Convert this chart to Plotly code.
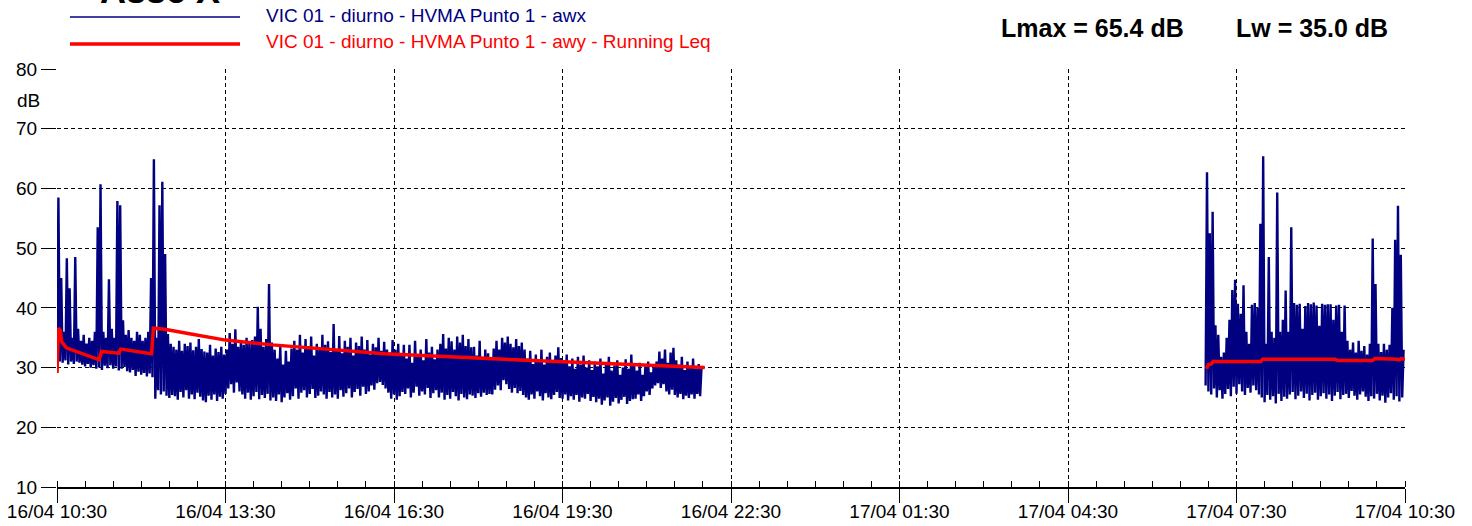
import pandas as pd
import plotly.graph_objects as go

# ---------------------------------------------------------------------------
# Vibration level record, axis X - VIC 01, daytime, HVMA point 1
# Levels in dB, stored as min / max per 3-minute block
# ---------------------------------------------------------------------------
DAY_START = pd.Timestamp("2021-04-16 10:30")
BLOCK_MIN = 3

# first run: starts at 16/04 10:30 (minutes after start)
run1_start = 0
run1_lo = [
    29.5, 31, 30.8, 31.2, 30.5, 31, 30.6, 31, 30.8, 30.5,
    30.2, 30.6, 30, 30.4, 29.8, 30, 29.6, 30.3, 29.9, 30.4,
    29.8, 30.2, 29.5, 29.8, 30.1, 29.4, 29.2, 29.6, 28.6, 29.3,
    28.8, 29.1, 28.5, 29, 28.4,
    24.8, 26.2, 25.5, 26, 25.3, 24.9, 25.4,
    25.2, 24.6, 25.9, 25, 26.2, 24.8, 25.5, 24.7, 25.8, 25.1, 24.5,
    24.2, 25.3, 24.6, 25.5, 24.4, 25.1, 24.8, 25.6,
    26.5, 27.2, 25.8, 27.5, 26,
    25.5, 24.8, 25.8, 24.6, 25.2, 25.9, 24.7, 25.4, 24.9, 25.6, 24.5, 25,
    24.4, 25.5, 24.2, 25, 25.7, 24.6,
    25.2, 26.5, 24.8, 25.8, 26.2, 25, 25.6, 26.4, 24.9, 25.3, 26, 25.5, 24.8, 25.9,
    25,
    25.5, 24.8, 26.2, 25.1, 25.7, 26.5, 25, 25.9, 26.4, 25.3,
    26.8, 25.6, 26, 27, 26.3, 27.4, 27.6, 27.1, 26.5,
    25.8, 24.8, 25.5, 24.6, 25.2, 25.9,
    25.6, 26.5, 25, 25.8, 26.8, 25.3, 26, 25.5, 26.6, 24.9, 25.7, 26.2,
    25, 25.8, 24.6, 25.4, 24.8, 25.9, 25.2, 24.5, 25.6, 25, 24.7, 25.5,
    25.3, 24.9, 25.7, 25.1, 25.8, 25.4, 25.6,
    25.5, 26.3, 27, 26.2, 27.9, 27.2, 26.4, 25.8, 26.6, 25.7, 26.1, 25.4,
    25, 24.6, 25.5, 24.8, 26, 25.2, 24.5, 25.7, 25, 24.7, 25.4, 25.9, 24.9,
    24.8, 25.5, 24.5, 25.2, 24.6, 25.4, 24.3, 25, 24.8, 25.6, 24.4, 25.1,
    24.2, 24.8, 23.8, 24.5, 25, 23.6, 24.3, 24.9, 24, 24.6, 25.1, 23.9, 24.4, 24.7,
    24.8, 25.5, 24.4, 25.2, 26, 25.4, 26.5, 27,
    27.4, 26.6, 27.2, 26, 25.5, 26.3, 25.4,
    25, 25.6, 24.7, 25.3, 24.9, 25.5, 24.8, 25.6, 25.2,
]
run1_hi = [
    58.5, 45, 36, 48.3, 43.3, 35, 48.5, 36.5, 34.5, 35.5,
    34, 35, 34.5, 36, 53.5, 60.7, 36, 35, 44.8, 36.5,
    35, 57.9, 57.2, 37.9, 35.5, 36.3, 35, 34.5, 36, 35.5,
    34.5, 35, 36, 45, 64.9,
    35, 57.2, 61.1, 49, 35.6, 34, 33.5,
    33, 34.5, 32.8, 34, 33.6, 34.2, 32.9, 33.5, 34.8, 33.1, 32.7,
    32.5, 33.8, 32, 33.2, 32.6, 33.5, 32.2, 33,
    35.8, 34, 36.4, 33.5, 34.6,
    33.8, 35, 34, 34.6, 35.2, 40.2, 36.5, 33.5, 34.8, 44.0, 34.2, 33,
    31.5, 33.5, 30.5, 32.8, 31, 33.2,
    34.5, 33, 35.5, 32.5, 34.8, 33.6, 35.2, 32, 34, 33.2, 35.5, 33.8, 34.4, 32.6,
    37.3,
    33, 35.3, 32.4, 34.5, 33.5, 35, 32, 34.2, 33.6, 35.2,
    33, 34.6, 32.2, 34, 33.4, 35, 32.8, 34.3, 33,
    32.5, 34.6, 33, 34, 32.2, 33.8,
    31.5, 33.8, 30.8, 34.5, 32.2, 33, 31.2, 34.8, 32.5, 33.5, 31.4, 33,
    34, 35.6, 33.2, 35, 34.4, 33, 35.2, 34.2, 35.5, 33.6, 34.8, 33.4,
    33.5, 32, 34.5, 31.8, 33, 32.4, 31.5,
    33.2, 34.5, 33, 35, 34.2, 35.2, 34, 33.4, 34.8, 33.6, 34.2, 33,
    31.5, 32.8, 30.6, 32.2, 31, 33, 30.5, 31.8, 32.5, 30.8, 32, 33.4, 31.6,
    31, 32.2, 30.2, 31.5, 29.8, 31.8, 30.5, 32, 30, 31.2, 29.6, 31,
    30.2, 31.5, 29, 30.8, 31.8, 29.5, 30.4, 31.2, 28.8, 30, 31.4, 29.8, 32.2, 30.5,
    29.5, 30.8, 28.8, 30.2, 31, 29.2, 30.5, 31,
    32.7, 31.5, 33, 30.8, 32.5, 33.3, 31.2,
    30.5, 31.8, 29.6, 31, 30.2, 31.5, 29.8, 30.6, 30,
]

# second run: starts on 17/04 around 07:57
run2_start = 1227
run2_lo = [
    27, 26, 25.5, 26.5, 25, 26.2, 24.8, 25.6, 26.4, 25.2,
    26.8, 25.6, 27.2, 26, 25.4, 26.6, 25.8, 27, 26.2, 25.5,
    25, 24.2, 25.4, 24.6, 25.2, 24, 25.6, 24.4, 25.1, 24.8,
    25.5, 25.9, 24.7, 25.3, 26, 24.9, 25.6, 24.5, 25.4, 25.8,
    24.6, 25.2, 25.7, 24.8, 25.5, 24.4, 25.3, 25.9, 24.7, 25.4,
    25.6, 24.9, 26.1, 25.3, 24.6, 25.5, 26, 25.1, 24.4, 25.2,
    24.8, 25.6, 24.5, 25.3, 24.1, 25, 25.7, 24.6, 25.2, 24.3,
    25,
]
run2_hi = [
    62.7, 52.5, 56.1, 37.1, 35.5, 31.8, 32.5, 35, 38, 43,
    44.7, 40.7, 39, 43.8, 36, 34, 40.5, 40.8, 40, 54.1,
    65.4, 34, 48.5, 36, 35, 59.3, 36, 38, 42.9, 36,
    53.5,
    40.8, 40.5, 40.7, 36.5, 40.3, 40.8, 40.6, 40.9, 40.4, 37,
    40.7, 40.5, 40.6, 40.6, 38, 40.4, 40.5, 36, 40.4,
    34.5, 33, 34.2, 32.5, 34.5, 32.8, 33.6, 32.2, 34, 51.6,
    44, 34, 32.6, 34, 33, 33.8, 40, 51.4, 57.1, 48.9,
    33,
]

# running Leq (minutes after start, dB)
leq1_min = [0, 1.5, 3.5, 5, 10, 25, 42, 45, 47.5, 63, 66, 68, 101, 103,
            115, 140, 180, 230, 350, 460, 540, 692]
leq1_db = [29.1, 36.6, 36.2, 34.3, 33.3, 32.4, 31.5, 31.3, 32.7, 32.4, 32.4,
           33.1, 32.3, 36.6, 36.4, 35.7, 34.6, 33.8, 32.3, 31.5, 31.0, 30.0]
leq2_min = [1228, 1230, 1233, 1235, 1286, 1288, 1365, 1368, 1405, 1408,
            1432, 1434, 1436, 1440]
leq2_db = [29.8, 30.5, 30.6, 31.0, 31.0, 31.4, 31.4, 31.2, 31.2, 31.5,
           31.4, 31.3, 31.5, 31.4]

LW_DB = 35.0
Y_TICKS = [10, 20, 30, 40, 50, 60, 70, 80]

NAVY = "#000080"
RED = "#ff0000"
FONT = "Liberation Sans, Arial, Helvetica, sans-serif"

W, H = 1472, 526
M_L, M_R, M_T, M_B = 57, 67, 69, 39
PW, PH = W - M_L - M_R, H - M_T - M_B


def px_x(px):
    return (px - M_L) / PW


def px_y(py):
    return (H - M_B - py) / PH


def stamp(minutes):
    return [None if m is None else DAY_START + pd.Timedelta(minutes=m) for m in minutes]


def zigzag(start, lo, hi):
    t, v = [], []
    for i, (a, b) in enumerate(zip(lo, hi)):
        m = start + i * BLOCK_MIN
        t += [m, m + BLOCK_MIN / 2]
        v += [a, b]
    return t, v


t1, v1 = zigzag(run1_start, run1_lo, run1_hi)
t2, v2 = zigzag(run2_start, run2_lo, run2_hi)
lmax = max(run1_hi + run2_hi)

fig = go.Figure()
fig.add_trace(go.Scatter(
    x=stamp(t1 + [None] + t2), y=v1 + [None] + v2, mode="lines",
    line=dict(color=NAVY, width=2.4), connectgaps=False, hoverinfo="skip",
))
fig.add_trace(go.Scatter(
    x=stamp(leq1_min + [None] + leq2_min), y=leq1_db + [None] + leq2_db,
    mode="lines", line=dict(color=RED, width=3.5), connectgaps=False,
    hoverinfo="skip",
))

grid = dict(showgrid=True, gridcolor="black", gridwidth=1, griddash="4px,3px")

fig.update_xaxes(
    type="date", automargin=False,
    range=[DAY_START, DAY_START + pd.Timedelta(hours=24)],
    tick0=DAY_START, dtick=3 * 3600 * 1000, tickformat="%d/%m %H:%M",
    ticks="outside", ticklen=14, tickwidth=1, tickcolor="black",
    ticklabelstandoff=-8,
    showline=True, linecolor="black", linewidth=2,
    minor=dict(ticks="inside", ticklen=6, tickcolor="black", tickwidth=1,
               dtick=30 * 60 * 1000, tick0=DAY_START, showgrid=False),
    tickfont=dict(family=FONT, size=19, color="black"),
    zeroline=False, **grid,
)
fig.update_yaxes(
    range=[10, 80], tickvals=Y_TICKS, automargin=False,
    ticks="outside", ticklen=15, tickwidth=1, tickcolor="black",
    showline=False, zeroline=False,
    tickfont=dict(family=FONT, size=19, color="black"),
    **grid,
)

annotations = [
    dict(text="<b>Asse X</b>", x=px_x(160), y=px_y(13), xanchor="center",
         yanchor="bottom", font=dict(family=FONT, size=36, color="black")),
    dict(text="VIC 01 - diurno - HVMA Punto 1 - awx", x=px_x(264), y=px_y(15),
         xanchor="left", yanchor="middle",
         font=dict(family=FONT, size=19, color=NAVY)),
    dict(text="VIC 01 - diurno - HVMA Punto 1 - awy - Running Leq",
         x=px_x(264), y=px_y(42), xanchor="left", yanchor="middle",
         font=dict(family=FONT, size=19, color=RED)),
    dict(text=f"<b>Lmax = {lmax:.1f} dB</b>", x=px_x(999), y=px_y(28),
         xanchor="left", yanchor="middle",
         font=dict(family=FONT, size=25, color="black")),
    dict(text=f"<b>Lw = {LW_DB:.1f} dB</b>", x=px_x(1234), y=px_y(28),
         xanchor="left", yanchor="middle",
         font=dict(family=FONT, size=25, color="black")),
    dict(text="dB", x=px_x(42), y=px_y(100), xanchor="right", yanchor="middle",
         font=dict(family=FONT, size=19, color="black")),
]
for a in annotations:
    a.update(xref="paper", yref="paper", showarrow=False)

shapes = [
    dict(type="line", xref="paper", yref="paper", x0=px_x(70), x1=px_x(240),
         y0=px_y(17), y1=px_y(17), line=dict(color=NAVY, width=1.5)),
    dict(type="line", xref="paper", yref="paper", x0=px_x(70), x1=px_x(240),
         y0=px_y(44), y1=px_y(44), line=dict(color=RED, width=3.5)),
]

fig.update_layout(
    width=W, height=H,
    margin=dict(l=M_L, r=M_R, t=M_T, b=M_B, pad=0, autoexpand=False),
    paper_bgcolor="white", plot_bgcolor="white",
    showlegend=False,
    annotations=annotations, shapes=shapes,
    font=dict(family=FONT, color="black"),
)

fig.write_html("out.html")
